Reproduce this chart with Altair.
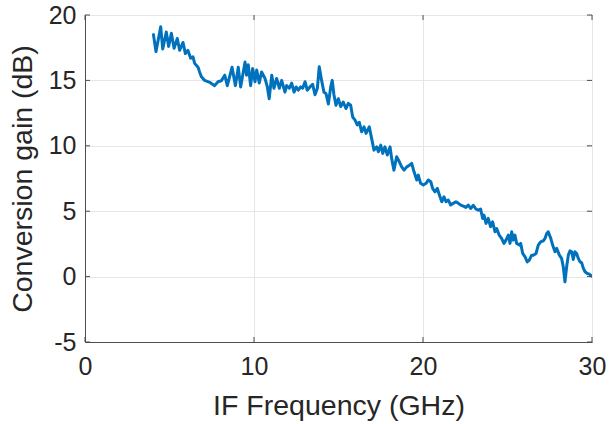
import altair as alt
import pandas as pd

# Measured conversion gain versus IF frequency
freq_ghz = [
    4.05, 4.2, 4.48, 4.6, 4.81, 4.95, 5.11, 5.27, 5.46, 5.6, 5.8, 5.94, 6.09, 6.25,
    6.39, 6.49, 6.69, 6.78, 6.88, 7.08, 7.38, 7.67, 7.87, 8.07, 8.27, 8.42, 8.7, 8.9,
    9.07, 9.21, 9.47, 9.56, 9.66, 9.8, 9.92, 10.06, 10.16, 10.31, 10.45, 10.65, 10.79,
    10.9, 11.05, 11.18, 11.34, 11.5, 11.64, 11.83, 11.93, 12.09, 12.23, 12.37, 12.49,
    12.62, 12.76, 12.88, 13.02, 13.15, 13.31, 13.47, 13.61, 13.75, 13.86, 14.0, 14.14,
    14.26, 14.4, 14.54, 14.63, 14.73, 14.85, 14.99, 15.13, 15.28, 15.44, 15.58, 15.72,
    15.84, 15.98, 16.11, 16.23, 16.37, 16.51, 16.63, 16.82, 16.96, 17.1, 17.26, 17.36,
    17.5, 17.62, 17.75, 17.89, 18.05, 18.15, 18.28, 18.44, 18.6, 18.74, 18.88, 19.04,
    19.2, 19.33, 19.47, 19.63, 19.72, 19.86, 20.02, 20.18, 20.31, 20.46, 20.57, 20.71,
    20.85, 20.97, 21.11, 21.24, 21.36, 21.5, 21.64, 21.79, 21.95, 22.09, 22.23, 22.39,
    22.54, 22.68, 22.82, 22.98, 23.14, 23.27, 23.41, 23.53, 23.61, 23.73, 23.86, 24.0,
    24.12, 24.26, 24.36, 24.51, 24.65, 24.79, 24.91, 25.05, 25.15, 25.25, 25.34, 25.44,
    25.54, 25.7, 25.78, 25.9, 26.04, 26.17, 26.29, 26.43, 26.53, 26.69, 26.82, 26.96,
    27.12, 27.22, 27.32, 27.41, 27.56, 27.67, 27.81, 27.91, 28.07, 28.2, 28.3, 28.4,
    28.5, 28.6, 28.7, 28.8, 28.89, 28.99, 29.09, 29.19, 29.29, 29.39, 29.49, 29.59,
    29.72, 29.84, 29.98,
]
gain_db = [
    18.5, 17.2, 19.1, 17.4, 18.7, 17.6, 18.6, 17.45, 18.2, 17.3, 17.9, 17.05, 17.3, 16.7,
    16.8, 16.3, 16.0, 15.65, 15.3, 15.0, 14.85, 14.6, 14.9, 14.97, 15.4, 14.6, 16.0, 14.6,
    16.0, 14.5, 16.4, 15.4, 16.2, 14.6, 15.9, 14.9, 15.8, 14.8, 15.65, 15.15, 14.5,
    13.6, 15.4, 14.4, 15.15, 14.4, 15.0, 14.1, 14.6, 14.4, 14.8, 14.1, 14.5,
    14.25, 14.5, 14.4, 14.9, 14.25, 14.5, 14.7, 13.9, 14.4, 16.04, 15.0, 14.1,
    14.0, 13.2, 14.5, 15.0, 13.9, 13.1, 13.6, 13.0, 13.35, 12.85, 13.25, 13.1,
    12.2, 11.96, 11.6, 11.8, 11.07, 11.45, 10.95, 11.45, 10.57, 9.67, 9.92, 9.54,
    10.05, 9.42, 9.92, 9.29, 9.92, 9.0, 8.14, 9.16, 8.78, 8.39, 8.14, 8.39,
    8.52, 8.65, 8.01, 7.38, 7.76, 7.13, 7.0, 7.13, 7.38, 7.25, 6.74, 6.48,
    6.74, 6.23, 5.72, 6.1, 5.72, 5.85, 5.47, 5.6, 5.72, 5.6, 5.47, 5.39,
    5.29, 5.47, 5.21, 5.45, 5.15, 5.08, 5.16, 4.45, 4.7, 4.07, 4.45, 3.81,
    4.19, 3.43, 3.68, 3.17, 2.92, 2.54, 2.79, 3.17, 2.54, 3.43, 2.79, 3.17,
    2.54, 2.41, 2.54, 1.77, 1.51, 1.13, 1.26, 1.64, 1.64, 1.77, 2.41, 2.66,
    2.74, 2.92, 3.3, 3.43, 2.92, 2.41, 1.9, 2.16, 1.64, 1.39, 0.75, -0.4,
    0.75, 1.64, 1.97, 1.9, 1.31, 1.9, 1.77, 1.39, 1.13, 1.05, 0.63, 0.37,
    0.24, 0.19, 0.04,
]
x_ticks = [0, 10, 20, 30]
y_ticks = [-5, 0, 5, 10, 15, 20]

FONT = "Liberation Sans"
INK = "#262626"
FRAME = "#4d4d4d"
W, H = 507, 327
TICK_LEN = 5

df = pd.DataFrame({"freq": freq_ghz, "gain": gain_db})
xt = pd.DataFrame({"freq": x_ticks})
yt = pd.DataFrame({"gain": y_ticks})

x_scale = alt.Scale(domain=[0, 30], nice=False, zero=False)
y_scale = alt.Scale(domain=[-5, 20], nice=False, zero=False)

x_axis = alt.Axis(
    values=x_ticks, title="IF Frequency (GHz)", grid=True, gridColor="#e6e6e6",
    ticks=False, domainColor=FRAME, labelFont=FONT, labelFontSize=25,
    labelColor=INK, labelPadding=12, labelFlush=False, labelOverlap=False,
    labelExpr="datum.value",
    titleFont=FONT, titleFontSize=28.5, titleFontWeight="normal", titleColor=INK,
    titleY=72, titleBaseline="alphabetic",
)
y_axis = alt.Axis(
    values=y_ticks, title="Conversion gain (dB)", grid=True, gridColor="#e6e6e6",
    ticks=False, domainColor=FRAME, labelFont=FONT, labelFontSize=25,
    labelColor=INK, labelPadding=9, labelFlush=False, labelOverlap=False,
    labelExpr="datum.value",
    titleFont=FONT, titleFontSize=28.5, titleFontWeight="normal", titleColor=INK,
    titleX=-54, titleY=H / 2, titleAngle=-90, titleAlign="center",
    titleBaseline="alphabetic",
)

curve = alt.Chart(df).mark_line(
    color="#0072BD", strokeWidth=3, strokeJoin="round", strokeCap="round", clip=True
).encode(
    x=alt.X("freq:Q", scale=x_scale, axis=x_axis),
    y=alt.Y("gain:Q", scale=y_scale, axis=y_axis),
)

# Inward tick marks on all four sides of the box
tick_style = dict(color=FRAME, strokeWidth=1)
x_bottom = alt.Chart(xt).mark_rule(**tick_style).encode(
    x=alt.X("freq:Q", scale=x_scale),
    y=alt.value(H), y2=alt.value(H - TICK_LEN),
)
x_top = alt.Chart(xt).mark_rule(**tick_style).encode(
    x=alt.X("freq:Q", scale=x_scale),
    y=alt.value(0), y2=alt.value(TICK_LEN),
)
y_left = alt.Chart(yt).mark_rule(**tick_style).encode(
    y=alt.Y("gain:Q", scale=y_scale),
    x=alt.value(0), x2=alt.value(TICK_LEN),
)
y_right = alt.Chart(yt).mark_rule(**tick_style).encode(
    y=alt.Y("gain:Q", scale=y_scale),
    x=alt.value(W), x2=alt.value(W - TICK_LEN),
)

chart = (
    alt.layer(curve, x_bottom, x_top, y_left, y_right)
    .properties(
        width=W, height=H,
        autosize=alt.AutoSizeParams(type="none"),
        padding={"left": 85, "top": 15, "right": 22, "bottom": 82},
        background="white",
    )
    .configure_view(stroke=FRAME, strokeWidth=1)
)

chart.save("out.html", embed_options={"renderer": "svg", "actions": False})
